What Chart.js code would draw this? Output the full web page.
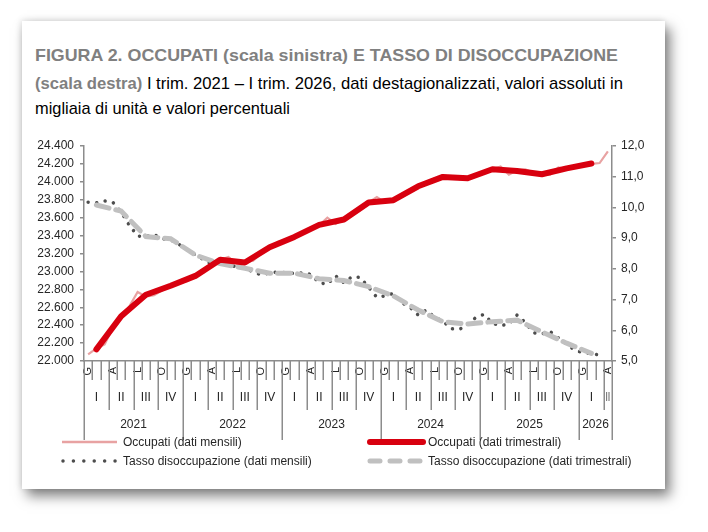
<!DOCTYPE html>
<html><head><meta charset="utf-8">
<script src="https://cdn.jsdelivr.net/npm/chart.js@4.4.1/dist/chart.umd.min.js"></script>
<style>
html,body{margin:0;padding:0;background:#fff;}
body{width:708px;height:532px;overflow:hidden;position:relative;font-family:"Liberation Sans",Arial,sans-serif;}
#card{position:absolute;left:22px;top:21px;width:643px;height:468px;background:#fff;
 box-shadow:5px 7px 12px rgba(0,0,0,0.5),-1px -1px 6px rgba(0,0,0,0.12);}
.tl{position:absolute;left:35px;white-space:nowrap;font-size:17px;line-height:20px;color:#000;transform-origin:0 50%;}
.g{color:#808080;font-weight:bold;}
#chartCanvas{position:absolute;left:22px;top:132px;}
.lg{position:absolute;font-size:12px;line-height:14px;color:#262626;white-space:nowrap;}
svg.ls{position:absolute;overflow:visible;}
</style></head>
<body>
<div id="card"></div>
<div class="tl" id="t1" data-w="583" style="top:46px"><span class="g">FIGURA 2. OCCUPATI (scala sinistra) E TASSO DI DISOCCUPAZIONE</span></div>
<div class="tl" id="t2" data-w="588" style="top:74px"><span class="g">(scala destra)</span> I trim. 2021 – I trim. 2026, dati destagionalizzati, valori assoluti in</div>
<div class="tl" id="t3" data-w="255" style="top:99px">migliaia di unità e valori percentuali</div>
<canvas id="chartCanvas" width="643" height="312"></canvas>

<svg class="ls" style="left:0;top:0" width="708" height="532">
 <line x1="62" y1="442" x2="117" y2="442" stroke="#e8a2a2" stroke-width="2.5"/>
 <line x1="63" y1="461" x2="116" y2="461" stroke="#4d4d4d" stroke-width="3.5" stroke-linecap="round" stroke-dasharray="0.01 10.4"/>
 <line x1="370" y1="442" x2="423" y2="442" stroke="#d8000f" stroke-width="6" stroke-linecap="round"/>
 <line x1="370" y1="461" x2="421" y2="461" stroke="#c0c0c0" stroke-width="5" stroke-linecap="round" stroke-dasharray="10 10"/>
</svg>
<div class="lg" style="left:123px;top:435px">Occupati (dati mensili)</div>
<div class="lg" style="left:123px;top:454px">Tasso disoccupazione (dati mensili)</div>
<div class="lg" style="left:428px;top:435px">Occupati (dati trimestrali)</div>
<div class="lg" style="left:428px;top:454px">Tasso disoccupazione (dati trimestrali)</div>

<script>
// ---- Data ----
const years = ['2021','2022','2023','2024','2025','2026'];
const quarterNames = ['I','II','III','IV'];
const quarterMonthInitials = ['G','A','L','O'];
const monthCount = 64; // gennaio 2021 - aprile 2026

// Occupati, dati mensili (migliaia)
const occupatiMensili = [
 22075,22140,22185, 22370,22500,22610, 22770,22720,22735, 22790,22835,22880,
 22890,22945,22990, 23090,23130,23160, 23090,23100,23120, 23200,23270,23330,
 23345,23385,23420, 23470,23515,23600, 23530,23580,23640, 23700,23770,23830,
 23770,23790,23830, 23890,23950,24000, 24040,24060,24060, 24030,24040,24060,
 24110,24140,24170, 24080,24130,24140, 24100,24080,24080, 24160,24140,24165,
 24190,24200,24210, 24340
];
// Occupati, dati trimestrali (I 2021 - I 2026)
const occupatiTrimestrali = [
 22130,22500,22740,22840, 22950,23130,23100,23270, 23385,23520,23580,23770,
 23795,23950,24055,24040, 24140,24120,24085,24150, 24205
];
// Tasso di disoccupazione, dati mensili (%)
const tassoMensili = [
 10.17,10.15,10.21, 10.17,9.85,9.42, 9.07,9.05,9.12, 8.98,8.95,8.80,
 8.62,8.45,8.30, 8.15,8.20,8.12, 8.07,8.02,7.90, 7.80,7.87,7.90,
 7.87,7.85,7.87, 7.82,7.55,7.50, 7.77,7.55,7.75, 7.72,7.40,7.07,
 7.12,7.20,6.90, 6.75,6.50,6.66, 6.42,6.30,6.05, 6.03,6.18,6.42,
 6.52,6.23,6.15, 6.20,6.50,6.25, 5.92,5.88,5.96, 5.75,5.55,5.35,
 5.27,5.24,5.20, null
];
// Tasso di disoccupazione, dati trimestrali (%)
const tassoTrimestrali = [
 10.08,9.88,9.05,8.98, 8.45,8.17,8.02,7.86, 7.86,7.68,7.62,7.42,
 7.12,6.66,6.28,6.20, 6.28,6.33,5.95,5.58, 5.25
];
const leftTicks = {min:22000,max:24400,step:200};
const rightTicks = {min:5,max:12,step:1};

// ---- Fit title lines ----
document.querySelectorAll('.tl').forEach(el=>{
  const w = el.getBoundingClientRect().width;
  el.style.transform = 'scaleX(' + (parseFloat(el.dataset.w)/w) + ')';
});

// ---- Build categories ----
const monthLabels = [];
for (let i=0;i<monthCount;i++) monthLabels.push(i%3===0 ? quarterMonthInitials[(i/3)%4] : '');
// quarterly values placed on the central month of each quarter
function toMonthly(q){ const a=new Array(monthCount).fill(null); q.forEach((v,k)=>{a[3*k+1]=v;}); return a; }

const fmtThousands = v => String(v).replace(/\B(?=(\d{3})+(?!\d))/g,'.');
const FONT = "'Liberation Sans', Arial, sans-serif";
const AXIS = '#8c8c8c';
const TXT = '#262626';

const multiLevel = {
  id:'multiLevel',
  afterDraw(chart){
    const xs = chart.scales.x, ctx = chart.ctx, b = chart.chartArea.bottom;
    const half = (xs.getPixelForValue(1)-xs.getPixelForValue(0))/2;
    const edge = i => i<monthCount ? xs.getPixelForValue(i)-half : xs.getPixelForValue(monthCount-1)+half;
    ctx.save();
    ctx.strokeStyle = AXIS; ctx.lineWidth = 1.5;
    for (let i=0;i<=monthCount;i++){
      let len = 19;
      if (i%3===0) len = 49;
      if (i%12===0 || i===monthCount) len = 79;
      const x = Math.round(edge(i))+0.25;
      ctx.beginPath(); ctx.moveTo(x,b); ctx.lineTo(x,b+len); ctx.stroke();
    }
    ctx.fillStyle = TXT; ctx.textAlign='center'; ctx.textBaseline='middle';
    ctx.font = "12px " + FONT;
    for (let q=0; 3*q<monthCount; q++){
      const s=3*q, e=Math.min(3*q+3,monthCount);
      const cx=(edge(s)+edge(e))/2;
      const lab = quarterNames[q%4];
      if (e-s<3){ ctx.save(); ctx.translate(cx,b+37); ctx.scale(0.6,1); ctx.fillText(lab,0,0); ctx.restore(); }
      else ctx.fillText(lab,cx,b+37);
    }
    years.forEach((y,k)=>{
      const s=12*k, e=Math.min(12*k+12,monthCount);
      ctx.fillText(y,(edge(s)+edge(e))/2,b+64);
    });
    ctx.restore();
  }
};

new Chart(document.getElementById('chartCanvas'),{
  type:'line',
  data:{
    labels: monthLabels,
    datasets:[
      {label:'Occupati (dati mensili)', data:occupatiMensili, yAxisID:'y', borderColor:'#e8a2a2', borderWidth:2.2, pointRadius:0, tension:0, order:4},
      {label:'Tasso disoccupazione (dati mensili)', data:tassoMensili, yAxisID:'y2', borderColor:'#4d4d4d', borderWidth:3.5, borderDash:[0.01,8.6], borderCapStyle:'round', pointRadius:0, tension:0, order:3},
      {label:'Tasso disoccupazione (dati trimestrali)', data:toMonthly(tassoTrimestrali), yAxisID:'y2', spanGaps:true, borderColor:'#c0c0c0', borderWidth:5, borderDash:[13,7], borderCapStyle:'round', pointRadius:0, tension:0, order:2},
      {label:'Occupati (dati trimestrali)', data:toMonthly(occupatiTrimestrali), yAxisID:'y', spanGaps:true, borderColor:'#d8000f', borderWidth:6, borderJoinStyle:'round', borderCapStyle:'round', pointRadius:0, tension:0, order:1}
    ]
  },
  options:{
    responsive:false, animation:false, devicePixelRatio:1,
    layout:{padding:{top:14,left:0,right:0,bottom:0}},
    plugins:{legend:{display:false},tooltip:{enabled:false}},
    scales:{
      x:{type:'category', offset:true,
        grid:{display:false,drawTicks:false},
        border:{display:true,color:AXIS,width:1.5},
        ticks:{autoSkip:false,maxRotation:90,minRotation:90,padding:6,color:TXT,font:{family:FONT,size:11}},
        afterFit(s){ s.height = 83; }
      },
      y:{type:'linear', position:'left', min:leftTicks.min, max:leftTicks.max,
        grid:{display:true,drawOnChartArea:false,drawTicks:true,tickLength:4,color:AXIS,lineWidth:1.5},
        border:{display:true,color:AXIS,width:1.5},
        ticks:{stepSize:leftTicks.step,padding:6,color:TXT,font:{family:FONT,size:12},callback:v=>fmtThousands(v)},
        afterFit(s){ s.width = 62; }
      },
      y2:{type:'linear', position:'right', min:rightTicks.min, max:rightTicks.max,
        grid:{display:true,drawOnChartArea:false,drawTicks:true,tickLength:4,color:AXIS,lineWidth:1.5},
        border:{display:true,color:AXIS,width:1.5},
        ticks:{stepSize:rightTicks.step,padding:5,color:TXT,font:{family:FONT,size:12},callback:v=>v.toFixed(1).replace('.',',')},
        afterFit(s){ s.width = 53; }
      }
    }
  },
  plugins:[multiLevel]
});
</script>
</body></html>
